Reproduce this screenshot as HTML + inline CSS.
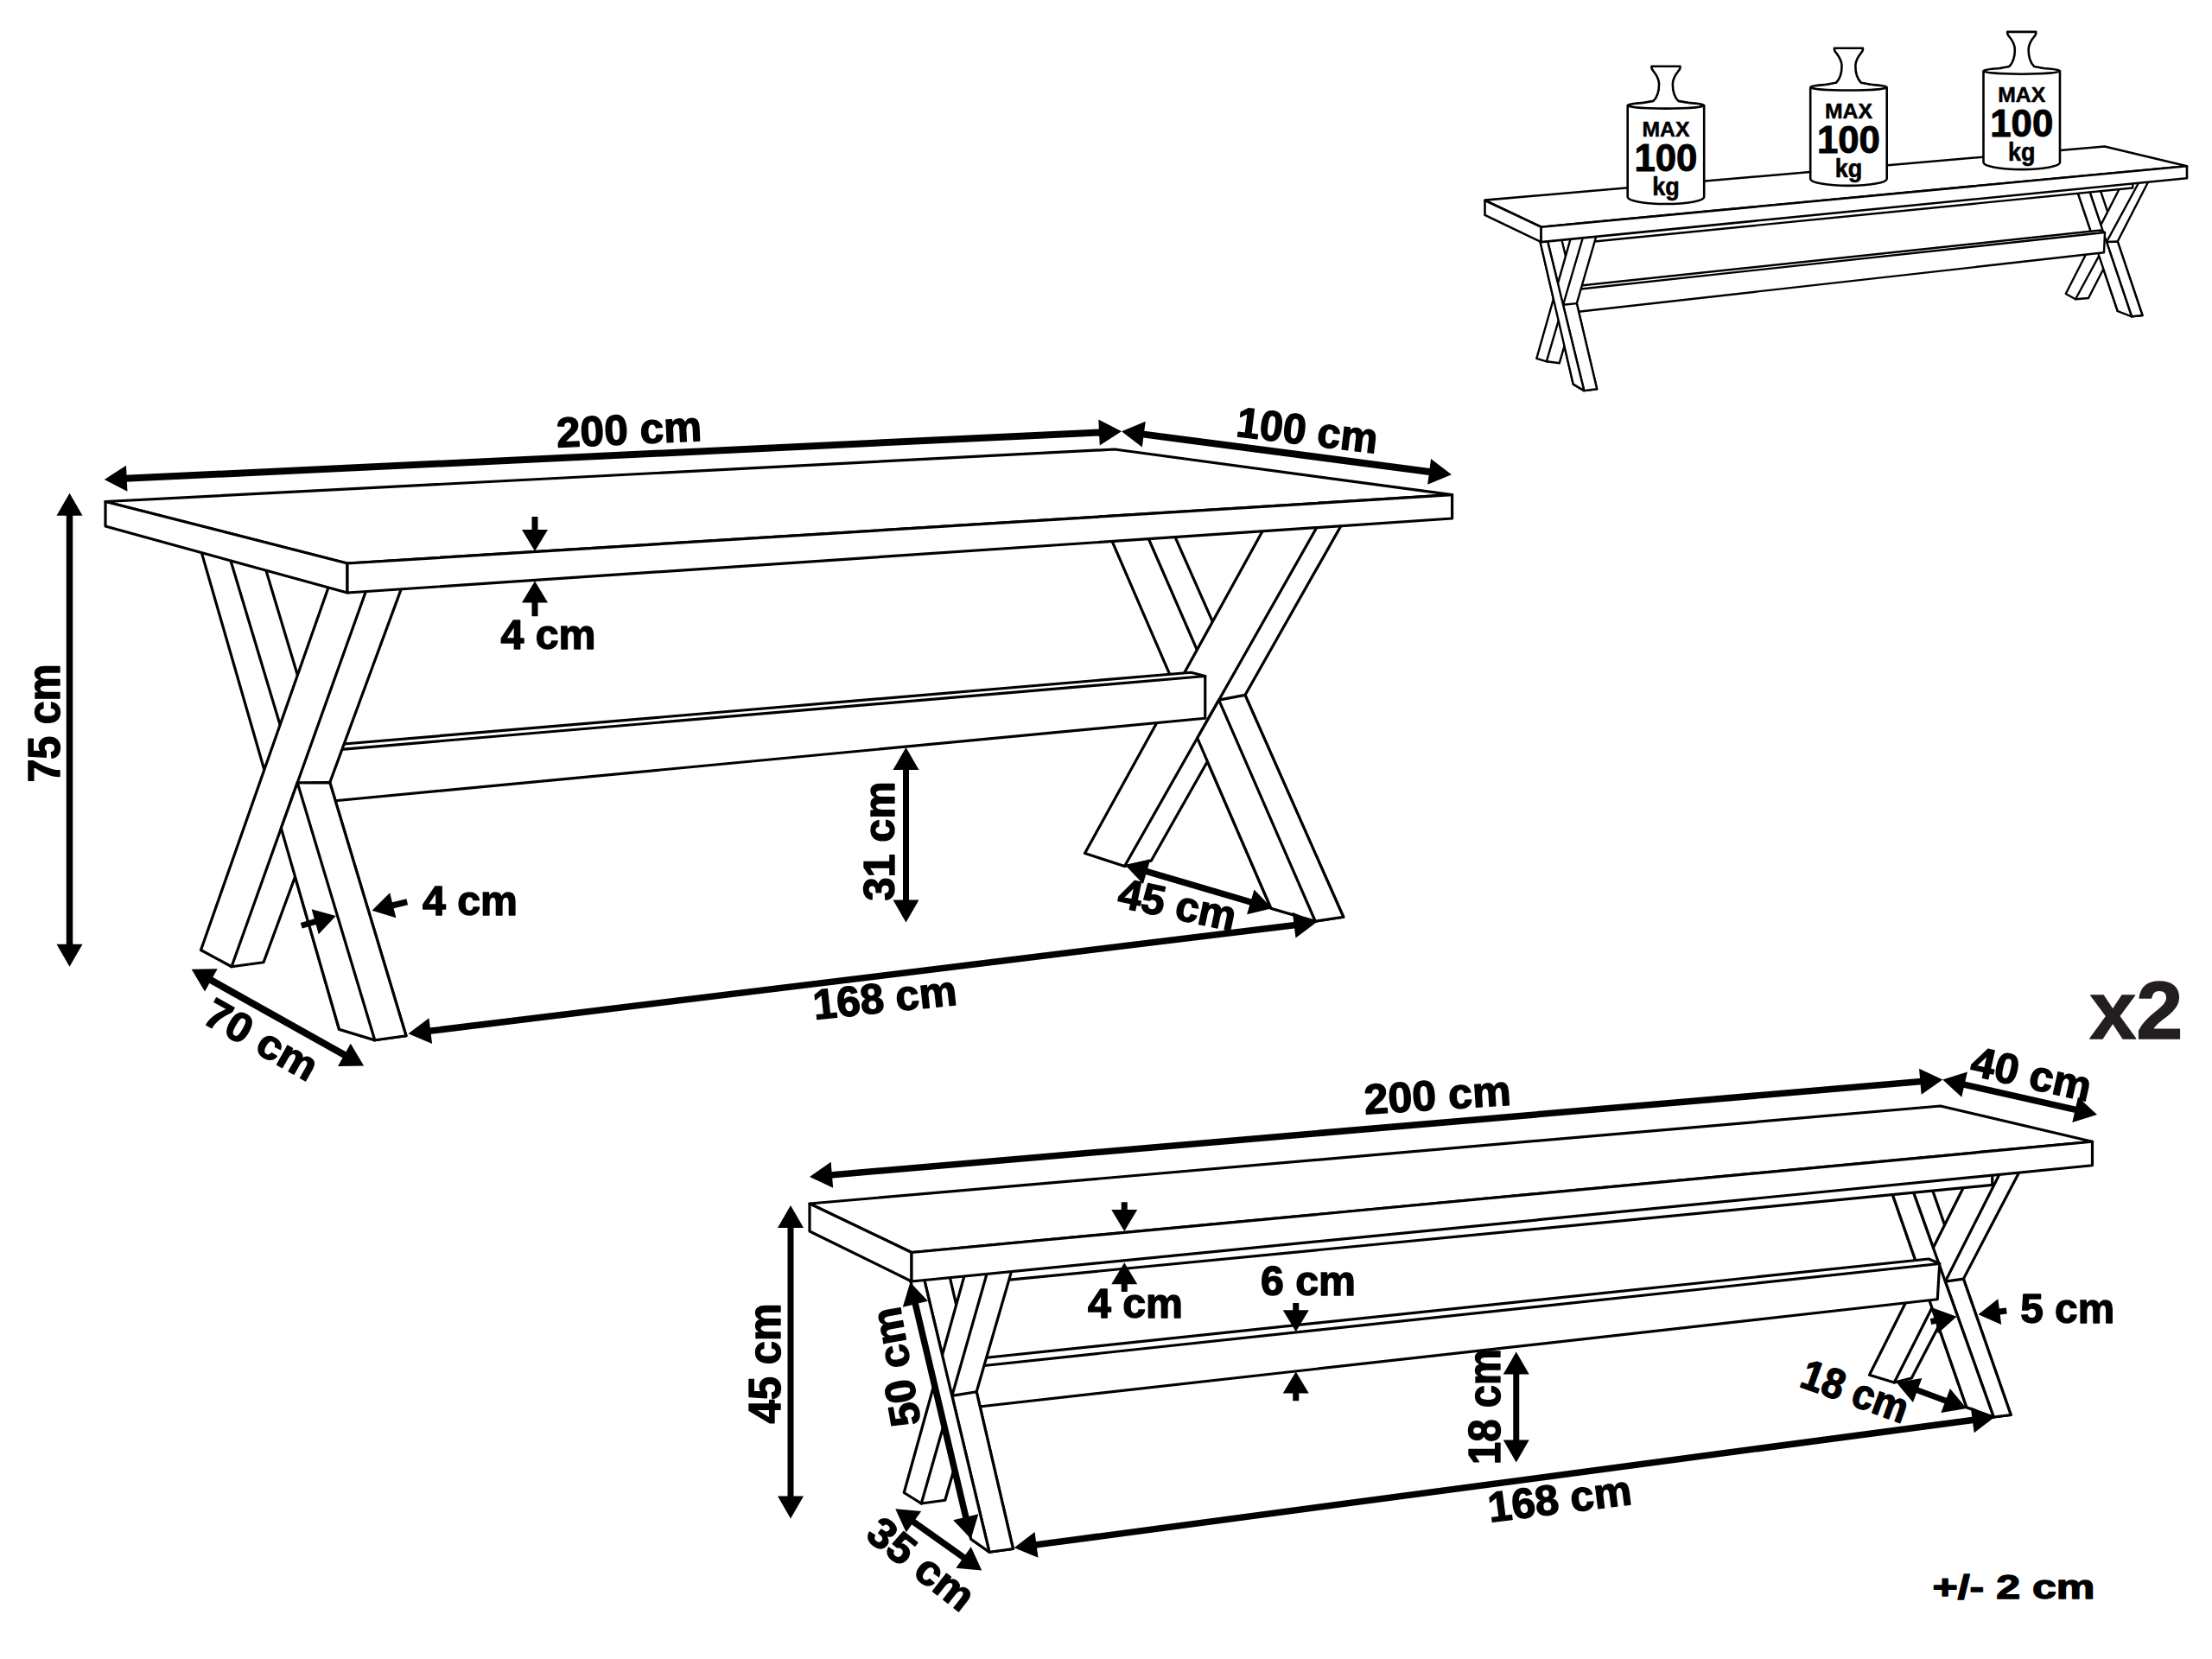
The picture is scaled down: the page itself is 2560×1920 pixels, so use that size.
<!DOCTYPE html>
<html><head><meta charset="utf-8"><title>Table and bench dimensions</title>
<style>
html,body{margin:0;padding:0;background:#fff;}
svg{display:block;}
text{font-family:"Liberation Sans",sans-serif;font-weight:bold;fill:#000;stroke:#000;stroke-width:1.4px;stroke-linejoin:round;}
</style></head>
<body>
<svg width="2560" height="1920" viewBox="0 0 2560 1920">
<rect width="2560" height="1920" fill="#fff"/>
<polygon points="1270.18,587.5 1342.78,582.7 1554.75,1061.25 1522.25,1066.25 1471,1051.25" fill="#fff" stroke="#000" stroke-width="3.2" stroke-linejoin="round" />
<polyline points="1312.07,584 1522.25,1066.25" fill="none" stroke="#000" stroke-width="3.2" stroke-linejoin="round" stroke-linecap="round"/>
<polygon points="1482.36,576.2 1573.87,569.9 1332.25,996.25 1301.5,1002.5 1255.5,987.5" fill="#fff" stroke="#000" stroke-width="3.2" stroke-linejoin="round" />
<polyline points="1546.09,571.4 1301.5,1002.5" fill="none" stroke="#000" stroke-width="3.2" stroke-linejoin="round" stroke-linecap="round"/>
<polygon points="1410.63,810.15 1440.98,804.39 1554.75,1061.25 1522.25,1066.25 1471,1051.25 1385.66,854.17" fill="#fff" stroke="#000" stroke-width="3.2" stroke-linejoin="round" />
<polyline points="1410.63,810.15 1522.25,1066.25" fill="none" stroke="#000" stroke-width="3.2" stroke-linejoin="round" stroke-linecap="round"/>
<polygon points="380,862.5 1378.5,778.25 1394.75,782.5 1394.75,831.25 380,927.5" fill="#fff" stroke="#000" stroke-width="3.2" stroke-linejoin="round" />
<polyline points="380,868.6 1394.75,782.5" fill="none" stroke="#000" stroke-width="3.2" stroke-linejoin="round" stroke-linecap="round"/>
<polygon points="222.06,600.6 296.36,621.9 470,1198.75 433.75,1203.75 392.5,1191.25" fill="#fff" stroke="#000" stroke-width="3.2" stroke-linejoin="round" />
<polyline points="255.28,609.9 433.75,1203.75" fill="none" stroke="#000" stroke-width="3.2" stroke-linejoin="round" stroke-linecap="round"/>
<polygon points="393.46,641.7 478.35,643.6 305,1113.75 268,1118.75 232.5,1099.5" fill="#fff" stroke="#000" stroke-width="3.2" stroke-linejoin="round" />
<polyline points="436.71,647.3 268,1118.75" fill="none" stroke="#000" stroke-width="3.2" stroke-linejoin="round" stroke-linecap="round"/>
<polygon points="344.21,905.8 381.75,905.58 470,1198.75 433.75,1203.75 392.5,1191.25 325.34,958.52" fill="#fff" stroke="#000" stroke-width="3.2" stroke-linejoin="round" />
<polyline points="344.21,905.8 433.75,1203.75" fill="none" stroke="#000" stroke-width="3.2" stroke-linejoin="round" stroke-linecap="round"/>
<polygon points="122,580.5 1290,520 1680.6,572.7 402,652" fill="#fff" stroke="#000" stroke-width="3.2" stroke-linejoin="round" />
<polygon points="122,580.5 402,652 402,686 122,609" fill="#fff" stroke="#000" stroke-width="3.2" stroke-linejoin="round" />
<polygon points="402,652 1680.6,572.7 1680.6,600 402,686" fill="#fff" stroke="#000" stroke-width="3.2" stroke-linejoin="round" />
<polygon points="120.75,555 146.01,538.79 147.43,568.75" fill="#000"/>
<polygon points="1298,499.25 1272.74,515.46 1271.32,485.5" fill="#000"/>
<line x1="144.72" y1="553.86" x2="1274.03" y2="500.39" stroke="#000" stroke-width="8"/>
<polygon points="1298,499.25 1325.73,487.76 1321.83,517.5" fill="#000"/>
<polygon points="1679.9,549.3 1652.17,560.79 1656.07,531.05" fill="#000"/>
<line x1="1321.8" y1="502.37" x2="1656.1" y2="546.18" stroke="#000" stroke-width="8"/>
<polygon points="80.5,570.75 95.5,596.75 65.5,596.75" fill="#000"/>
<polygon points="80.5,1118.75 65.5,1092.75 95.5,1092.75" fill="#000"/>
<line x1="80.5" y1="594.75" x2="80.5" y2="1094.75" stroke="#000" stroke-width="7.5"/>
<polygon points="619,638 604,613 634,613" fill="#000"/>
<line x1="619" y1="598" x2="619" y2="615" stroke="#000" stroke-width="7"/>
<polygon points="619,672.5 634,697.5 604,697.5" fill="#000"/>
<line x1="619" y1="713.25" x2="619" y2="695.5" stroke="#000" stroke-width="7"/>
<polygon points="388.75,1060 368.74,1081.21 360.62,1052.33" fill="#000"/>
<line x1="348.75" y1="1071.25" x2="366.61" y2="1066.23" stroke="#000" stroke-width="7"/>
<polygon points="430.5,1053.75 451.2,1033.22 458.35,1062.36" fill="#000"/>
<line x1="471.25" y1="1043.75" x2="452.84" y2="1048.27" stroke="#000" stroke-width="7"/>
<polygon points="221.7,1121.7 251.71,1121.34 237.03,1147.51" fill="#000"/>
<polygon points="421.1,1233.6 391.09,1233.96 405.77,1207.79" fill="#000"/>
<line x1="242.63" y1="1133.45" x2="400.17" y2="1221.85" stroke="#000" stroke-width="8"/>
<polygon points="472.5,1196.25 496.48,1178.2 500.13,1207.98" fill="#000"/>
<polygon points="1523.5,1067.5 1499.52,1085.55 1495.87,1055.77" fill="#000"/>
<line x1="496.32" y1="1193.33" x2="1499.68" y2="1070.42" stroke="#000" stroke-width="7.5"/>
<polygon points="1048.5,865 1063.5,891 1033.5,891" fill="#000"/>
<polygon points="1048.5,1067.5 1033.5,1041.5 1063.5,1041.5" fill="#000"/>
<line x1="1048.5" y1="889" x2="1048.5" y2="1043.5" stroke="#000" stroke-width="7"/>
<polygon points="1302.25,1001.25 1331.43,994.2 1322.96,1022.98" fill="#000"/>
<polygon points="1472.25,1051.25 1443.07,1058.3 1451.54,1029.52" fill="#000"/>
<line x1="1325.27" y1="1008.02" x2="1449.23" y2="1044.48" stroke="#000" stroke-width="7.5"/>
<text transform="translate(728 497) rotate(-2.6)" x="0" y="16.86" font-size="49" text-anchor="middle" textLength="168" lengthAdjust="spacingAndGlyphs">200 cm</text>
<text transform="translate(1513 498) rotate(7)" x="0" y="16.86" font-size="49" text-anchor="middle" textLength="164" lengthAdjust="spacingAndGlyphs">100 cm</text>
<text transform="translate(634.5 734) rotate(0)" x="0" y="16.86" font-size="49" text-anchor="middle" textLength="110" lengthAdjust="spacingAndGlyphs">4 cm</text>
<text transform="translate(51.5 837) rotate(-90)" x="0" y="17.54" font-size="51" text-anchor="middle" textLength="137" lengthAdjust="spacingAndGlyphs">75 cm</text>
<text transform="translate(544 1042.5) rotate(0)" x="0" y="16.86" font-size="49" text-anchor="middle" textLength="110" lengthAdjust="spacingAndGlyphs">4 cm</text>
<text transform="translate(302.5 1203) rotate(29.5)" x="0" y="16.51" font-size="48" text-anchor="middle" textLength="142" lengthAdjust="spacingAndGlyphs">70 cm</text>
<text transform="translate(1024 1154.5) rotate(-6)" x="0" y="16.86" font-size="49" text-anchor="middle" textLength="167" lengthAdjust="spacingAndGlyphs">168 cm</text>
<text transform="translate(1017.5 973.5) rotate(-90)" x="0" y="17.2" font-size="50" text-anchor="middle" textLength="138" lengthAdjust="spacingAndGlyphs">31 cm</text>
<text transform="translate(1362.7 1047) rotate(12)" x="0" y="16.86" font-size="49" text-anchor="middle" textLength="138" lengthAdjust="spacingAndGlyphs">45 cm</text>
<polygon points="2176.83,1343.75 2223.05,1338.75 2327.25,1637.5 2307.25,1640 2276,1628.75" fill="#fff" stroke="#000" stroke-width="3.2" stroke-linejoin="round" />
<polyline points="2200.23,1340 2307.25,1640" fill="none" stroke="#000" stroke-width="3.2" stroke-linejoin="round" stroke-linecap="round"/>
<polygon points="2292.07,1335 2356.66,1318.75 2212.25,1595 2192.25,1600 2163.5,1591.25" fill="#fff" stroke="#000" stroke-width="3.2" stroke-linejoin="round" />
<polyline points="2333.46,1320.5 2192.25,1600" fill="none" stroke="#000" stroke-width="3.2" stroke-linejoin="round" stroke-linecap="round"/>
<polygon points="2251.29,1483.14 2272.34,1480.06 2327.25,1637.5 2307.25,1640" fill="#fff" stroke="#000" stroke-width="3.2" stroke-linejoin="round" />
<polygon points="2176.83,1343.75 2200.23,1340 2307.25,1640 2276,1628.75" fill="#fff" stroke="#000" stroke-width="3.2" stroke-linejoin="round" />
<polygon points="1120,1573.5 2232.25,1457 2244.75,1462.5 2242.25,1503.75 1120,1629.5" fill="#fff" stroke="#000" stroke-width="3.2" stroke-linejoin="round" />
<polyline points="1120,1582.5 2244.75,1462.5" fill="none" stroke="#000" stroke-width="3.2" stroke-linejoin="round" stroke-linecap="round"/>
<polygon points="1150,1470 2305.75,1350 2305.75,1371.4 1150,1482.8" fill="#fff" stroke="#000" stroke-width="3.2" stroke-linejoin="round" />
<polygon points="1044.65,1443 1090.68,1441.3 1172.5,1792.5 1145,1796.25 1123.75,1781.25" fill="#fff" stroke="#000" stroke-width="3.2" stroke-linejoin="round" />
<polyline points="1060.85,1443.9 1145,1796.25" fill="none" stroke="#000" stroke-width="3.2" stroke-linejoin="round" stroke-linecap="round"/>
<polygon points="1126.32,1439.5 1181.4,1434.1 1093.75,1736.25 1066.25,1740 1046.25,1727.5" fill="#fff" stroke="#000" stroke-width="3.2" stroke-linejoin="round" />
<polyline points="1152.71,1437 1066.25,1740" fill="none" stroke="#000" stroke-width="3.2" stroke-linejoin="round" stroke-linecap="round"/>
<polygon points="1101.81,1615.4 1130.16,1610.75 1172.5,1792.5 1145,1796.25" fill="#fff" stroke="#000" stroke-width="3.2" stroke-linejoin="round" />
<polygon points="1044.65,1443 1060.85,1443.9 1145,1796.25 1123.75,1781.25" fill="#fff" stroke="#000" stroke-width="3.2" stroke-linejoin="round" />
<polygon points="937,1393 2245.75,1280 2421.5,1321.25 1055,1449.5" fill="#fff" stroke="#000" stroke-width="3.2" stroke-linejoin="round" />
<polygon points="937,1393 1055,1449.5 1055,1483 937,1425" fill="#fff" stroke="#000" stroke-width="3.2" stroke-linejoin="round" />
<polygon points="1055,1449.5 2421.5,1321.25 2421.5,1348.75 1055,1483" fill="#fff" stroke="#000" stroke-width="3.2" stroke-linejoin="round" />
<polygon points="937,1362 961.62,1344.83 964.19,1374.72" fill="#000"/>
<polygon points="2248.25,1249.5 2223.63,1266.67 2221.06,1236.78" fill="#000"/>
<line x1="960.91" y1="1359.95" x2="2224.34" y2="1251.55" stroke="#000" stroke-width="7.5"/>
<polygon points="2248.25,1249.5 2276.92,1240.62 2270.29,1269.87" fill="#000"/>
<polygon points="2427,1290 2398.33,1298.88 2404.96,1269.63" fill="#000"/>
<line x1="2271.66" y1="1254.8" x2="2403.59" y2="1284.7" stroke="#000" stroke-width="7.5"/>
<polygon points="915,1395 930,1421 900,1421" fill="#000"/>
<polygon points="915,1757.5 900,1731.5 930,1731.5" fill="#000"/>
<line x1="915" y1="1419" x2="915" y2="1733.5" stroke="#000" stroke-width="7"/>
<polygon points="1053.4,1484 1073.99,1505.84 1044.8,1512.76" fill="#000"/>
<polygon points="1123.75,1781 1103.16,1759.16 1132.35,1752.24" fill="#000"/>
<line x1="1058.93" y1="1507.35" x2="1118.22" y2="1757.65" stroke="#000" stroke-width="7.5"/>
<polygon points="1036.25,1746.25 1066.13,1749.12 1048.72,1773.55" fill="#000"/>
<polygon points="1136.25,1817.5 1106.37,1814.63 1123.78,1790.2" fill="#000"/>
<line x1="1055.8" y1="1760.18" x2="1116.7" y2="1803.57" stroke="#000" stroke-width="7.5"/>
<polygon points="1173.75,1791.25 1197.54,1772.95 1201.5,1802.68" fill="#000"/>
<polygon points="2308.5,1640 2284.71,1658.3 2280.75,1628.57" fill="#000"/>
<line x1="1197.54" y1="1788.08" x2="2284.71" y2="1643.17" stroke="#000" stroke-width="7.5"/>
<polygon points="1754.75,1564.5 1769.75,1590.5 1739.75,1590.5" fill="#000"/>
<polygon points="1754.75,1692.5 1739.75,1666.5 1769.75,1666.5" fill="#000"/>
<line x1="1754.75" y1="1588.5" x2="1754.75" y2="1668.5" stroke="#000" stroke-width="7"/>
<polygon points="2194.75,1600 2224.34,1594.93 2213.94,1623.08" fill="#000"/>
<polygon points="2276,1630 2246.41,1635.07 2256.81,1606.92" fill="#000"/>
<line x1="2217.26" y1="1608.31" x2="2253.49" y2="1621.69" stroke="#000" stroke-width="7"/>
<polygon points="1301.25,1425 1286.25,1400 1316.25,1400" fill="#000"/>
<line x1="1301.25" y1="1391.25" x2="1301.25" y2="1402" stroke="#000" stroke-width="7"/>
<polygon points="1301.25,1461.25 1316.25,1486.25 1286.25,1486.25" fill="#000"/>
<line x1="1301.25" y1="1495" x2="1301.25" y2="1484.25" stroke="#000" stroke-width="7"/>
<polygon points="1499.75,1541.25 1484.75,1516.25 1514.75,1516.25" fill="#000"/>
<line x1="1499.75" y1="1508" x2="1499.75" y2="1518.25" stroke="#000" stroke-width="7"/>
<polygon points="1499.75,1587.5 1514.75,1612.5 1484.75,1612.5" fill="#000"/>
<line x1="1499.75" y1="1621.25" x2="1499.75" y2="1610.5" stroke="#000" stroke-width="7"/>
<polygon points="2264.5,1523.75 2242.77,1543.19 2237.12,1513.72" fill="#000"/>
<line x1="2234.5" y1="1529.5" x2="2241.91" y2="1528.08" stroke="#000" stroke-width="7"/>
<polygon points="2289.5,1521.25 2312.36,1503.16 2316.22,1532.91" fill="#000"/>
<line x1="2322.25" y1="1517" x2="2312.31" y2="1518.29" stroke="#000" stroke-width="7"/>
<text transform="translate(1663.5 1267.2) rotate(-3.6)" x="0" y="16.86" font-size="49" text-anchor="middle" textLength="170" lengthAdjust="spacingAndGlyphs">200 cm</text>
<text transform="translate(2351 1243) rotate(12.8)" x="0" y="16.86" font-size="49" text-anchor="middle" textLength="141" lengthAdjust="spacingAndGlyphs">40 cm</text>
<text transform="translate(2472.2 1169.4) rotate(0)" x="0" y="32.68" font-size="95" text-anchor="middle" textLength="108" lengthAdjust="spacingAndGlyphs" style="fill:#231f20;stroke:#231f20">x2</text>
<text transform="translate(1313.9 1508.5) rotate(0)" x="0" y="16.86" font-size="49" text-anchor="middle" textLength="110" lengthAdjust="spacingAndGlyphs">4 cm</text>
<text transform="translate(1514 1482.5) rotate(0)" x="0" y="16.86" font-size="49" text-anchor="middle" textLength="110" lengthAdjust="spacingAndGlyphs">6 cm</text>
<text transform="translate(2392.7 1513.7) rotate(0)" x="0" y="16.86" font-size="49" text-anchor="middle" textLength="109" lengthAdjust="spacingAndGlyphs">5 cm</text>
<text transform="translate(1718.6 1628) rotate(-90)" x="0" y="17.54" font-size="51" text-anchor="middle" textLength="134" lengthAdjust="spacingAndGlyphs">18 cm</text>
<text transform="translate(1805 1734.5) rotate(-7.2)" x="0" y="16.86" font-size="49" text-anchor="middle" textLength="167" lengthAdjust="spacingAndGlyphs">168 cm</text>
<text transform="translate(2147 1610) rotate(20)" x="0" y="16.86" font-size="49" text-anchor="middle" textLength="128" lengthAdjust="spacingAndGlyphs">18 cm</text>
<text transform="translate(885.4 1578) rotate(-90)" x="0" y="17.54" font-size="51" text-anchor="middle" textLength="139" lengthAdjust="spacingAndGlyphs">45 cm</text>
<text transform="translate(1037 1582) rotate(-100)" x="0" y="16.86" font-size="49" text-anchor="middle" textLength="139" lengthAdjust="spacingAndGlyphs">50 cm</text>
<text transform="translate(1066.4 1810) rotate(38)" x="0" y="16.86" font-size="49" text-anchor="middle" textLength="142" lengthAdjust="spacingAndGlyphs">35 cm</text>
<text transform="translate(2330.4 1836.25) rotate(0)" x="0" y="13.42" font-size="39" text-anchor="middle" textLength="188" lengthAdjust="spacingAndGlyphs">+/- 2 cm</text>
<polygon points="2403.06,218.25 2429.31,215.75 2479.5,365 2467,366.25 2450.75,360" fill="#fff" stroke="#000" stroke-width="2.4" stroke-linejoin="round" />
<polyline points="2416.81,217 2467,366.25" fill="none" stroke="#000" stroke-width="2.4" stroke-linejoin="round" stroke-linecap="round"/>
<polygon points="2454.84,214.5 2488.61,205.75 2417,345 2402,346.25 2390.75,340" fill="#fff" stroke="#000" stroke-width="2.4" stroke-linejoin="round" />
<polyline points="2477.59,207 2402,346.25" fill="none" stroke="#000" stroke-width="2.4" stroke-linejoin="round" stroke-linecap="round"/>
<polygon points="2437.98,279.96 2450.72,279.43 2479.5,365 2467,366.25" fill="#fff" stroke="#000" stroke-width="2.4" stroke-linejoin="round" />
<polygon points="2403.06,218.25 2416.81,217 2467,366.25 2450.75,360" fill="#fff" stroke="#000" stroke-width="2.4" stroke-linejoin="round" />
<polygon points="1820,331.5 2431,266.5 2436,269 2435,292.3 1820,361.5" fill="#fff" stroke="#000" stroke-width="2.4" stroke-linejoin="round" />
<polyline points="1820,335.5 2436,269" fill="none" stroke="#000" stroke-width="2.4" stroke-linejoin="round" stroke-linecap="round"/>
<polygon points="1840,272 2468.25,206 2468.25,217.5 1840,280" fill="#fff" stroke="#000" stroke-width="2.4" stroke-linejoin="round" />
<polygon points="1781.05,273.5 1806.21,272.3 1848.2,450.3 1833.3,452.1 1820.7,444.6" fill="#fff" stroke="#000" stroke-width="2.4" stroke-linejoin="round" />
<polyline points="1789.55,272.9 1833.3,452.1" fill="none" stroke="#000" stroke-width="2.4" stroke-linejoin="round" stroke-linecap="round"/>
<polygon points="1818.97,271.7 1848.82,268.3 1804.7,420.3 1789.8,418.3 1778.3,414.9" fill="#fff" stroke="#000" stroke-width="2.4" stroke-linejoin="round" />
<polyline points="1833.35,270 1789.8,418.3" fill="none" stroke="#000" stroke-width="2.4" stroke-linejoin="round" stroke-linecap="round"/>
<polygon points="1809.05,352.76 1824.79,351.07 1848.2,450.3 1833.3,452.1" fill="#fff" stroke="#000" stroke-width="2.4" stroke-linejoin="round" />
<polygon points="1781.05,273.5 1789.55,272.9 1833.3,452.1 1820.7,444.6" fill="#fff" stroke="#000" stroke-width="2.4" stroke-linejoin="round" />
<polygon points="1718.5,231.6 2435.75,169.5 2531,192.2 1783.6,262.7" fill="#fff" stroke="#000" stroke-width="2.6" stroke-linejoin="round" />
<polygon points="1718.5,232 1783.6,262.7 1783.6,280.1 1718.5,248.9" fill="#fff" stroke="#000" stroke-width="2.6" stroke-linejoin="round" />
<polygon points="1783.6,262.7 2531,192.2 2531,206.25 1783.6,280.1" fill="#fff" stroke="#000" stroke-width="2.6" stroke-linejoin="round" />
<path d="M1883.7 122 L1883.7 228 A44.25 8 0 0 0 1972.2 228 L1972.2 122" fill="#fff" stroke="#000" stroke-width="2.6"/>
<ellipse cx="1927.95" cy="122" rx="44.25" ry="3.6" fill="#fff" stroke="#000" stroke-width="2.6"/>
<path d="M1901.95 119.1 Q1907.95 117.7 1913.45 116.9 C1916.95 113.5 1920.05 106 1920.05 97.4 C1920.05 91 1916.95 86.5 1913.45 82.2 Q1911.65 80.2 1911.45 78.5 L1911.45 76.8 L1944.45 76.8 L1944.45 78.5 Q1944.25 80.2 1942.45 82.2 C1938.95 86.5 1935.85 91 1935.85 97.4 C1935.85 106 1938.95 113.5 1942.45 116.9 Q1947.95 117.7 1953.95 119.1 L1953.95 122 L1901.95 122 Z" fill="#fff" stroke="none"/>
<path d="M1901.95 119.1 Q1907.95 117.7 1913.45 116.9 C1916.95 113.5 1920.05 106 1920.05 97.4 C1920.05 91 1916.95 86.5 1913.45 82.2 Q1911.65 80.2 1911.45 78.5 L1911.45 76.8 L1944.45 76.8 L1944.45 78.5 Q1944.25 80.2 1942.45 82.2 C1938.95 86.5 1935.85 91 1935.85 97.4 C1935.85 106 1938.95 113.5 1942.45 116.9 Q1947.95 117.7 1953.95 119.1" fill="none" stroke="#000" stroke-width="2.6" stroke-linejoin="round"/>
<text x="1927.95" y="158" text-anchor="middle" font-size="24.5" textLength="55" lengthAdjust="spacingAndGlyphs" style="stroke-width:0.5px">MAX</text>
<text x="1927.95" y="198" text-anchor="middle" font-size="44.5" textLength="73" lengthAdjust="spacingAndGlyphs" style="stroke-width:1px">100</text>
<text x="1927.95" y="226.2" text-anchor="middle" font-size="29" textLength="31.5" lengthAdjust="spacingAndGlyphs" style="stroke-width:0.6px">kg</text>
<path d="M2095.2 100.9 L2095.2 206.9 A44.25 8 0 0 0 2183.7 206.9 L2183.7 100.9" fill="#fff" stroke="#000" stroke-width="2.6"/>
<ellipse cx="2139.45" cy="100.9" rx="44.25" ry="3.6" fill="#fff" stroke="#000" stroke-width="2.6"/>
<path d="M2113.45 98 Q2119.45 96.6 2124.95 95.8 C2128.45 92.4 2131.55 84.9 2131.55 76.3 C2131.55 69.9 2128.45 65.4 2124.95 61.1 Q2123.15 59.1 2122.95 57.4 L2122.95 55.7 L2155.95 55.7 L2155.95 57.4 Q2155.75 59.1 2153.95 61.1 C2150.45 65.4 2147.35 69.9 2147.35 76.3 C2147.35 84.9 2150.45 92.4 2153.95 95.8 Q2159.45 96.6 2165.45 98 L2165.45 100.9 L2113.45 100.9 Z" fill="#fff" stroke="none"/>
<path d="M2113.45 98 Q2119.45 96.6 2124.95 95.8 C2128.45 92.4 2131.55 84.9 2131.55 76.3 C2131.55 69.9 2128.45 65.4 2124.95 61.1 Q2123.15 59.1 2122.95 57.4 L2122.95 55.7 L2155.95 55.7 L2155.95 57.4 Q2155.75 59.1 2153.95 61.1 C2150.45 65.4 2147.35 69.9 2147.35 76.3 C2147.35 84.9 2150.45 92.4 2153.95 95.8 Q2159.45 96.6 2165.45 98" fill="none" stroke="#000" stroke-width="2.6" stroke-linejoin="round"/>
<text x="2139.45" y="136.9" text-anchor="middle" font-size="24.5" textLength="55" lengthAdjust="spacingAndGlyphs" style="stroke-width:0.5px">MAX</text>
<text x="2139.45" y="176.9" text-anchor="middle" font-size="44.5" textLength="73" lengthAdjust="spacingAndGlyphs" style="stroke-width:1px">100</text>
<text x="2139.45" y="205.1" text-anchor="middle" font-size="29" textLength="31.5" lengthAdjust="spacingAndGlyphs" style="stroke-width:0.6px">kg</text>
<path d="M2295.5 82.1 L2295.5 188.1 A44.25 8 0 0 0 2384 188.1 L2384 82.1" fill="#fff" stroke="#000" stroke-width="2.6"/>
<ellipse cx="2339.75" cy="82.1" rx="44.25" ry="3.6" fill="#fff" stroke="#000" stroke-width="2.6"/>
<path d="M2313.75 79.2 Q2319.75 77.8 2325.25 77 C2328.75 73.6 2331.85 66.1 2331.85 57.5 C2331.85 51.1 2328.75 46.6 2325.25 42.3 Q2323.45 40.3 2323.25 38.6 L2323.25 36.9 L2356.25 36.9 L2356.25 38.6 Q2356.05 40.3 2354.25 42.3 C2350.75 46.6 2347.65 51.1 2347.65 57.5 C2347.65 66.1 2350.75 73.6 2354.25 77 Q2359.75 77.8 2365.75 79.2 L2365.75 82.1 L2313.75 82.1 Z" fill="#fff" stroke="none"/>
<path d="M2313.75 79.2 Q2319.75 77.8 2325.25 77 C2328.75 73.6 2331.85 66.1 2331.85 57.5 C2331.85 51.1 2328.75 46.6 2325.25 42.3 Q2323.45 40.3 2323.25 38.6 L2323.25 36.9 L2356.25 36.9 L2356.25 38.6 Q2356.05 40.3 2354.25 42.3 C2350.75 46.6 2347.65 51.1 2347.65 57.5 C2347.65 66.1 2350.75 73.6 2354.25 77 Q2359.75 77.8 2365.75 79.2" fill="none" stroke="#000" stroke-width="2.6" stroke-linejoin="round"/>
<text x="2339.75" y="118.1" text-anchor="middle" font-size="24.5" textLength="55" lengthAdjust="spacingAndGlyphs" style="stroke-width:0.5px">MAX</text>
<text x="2339.75" y="158.1" text-anchor="middle" font-size="44.5" textLength="73" lengthAdjust="spacingAndGlyphs" style="stroke-width:1px">100</text>
<text x="2339.75" y="186.3" text-anchor="middle" font-size="29" textLength="31.5" lengthAdjust="spacingAndGlyphs" style="stroke-width:0.6px">kg</text>
</svg>
</body></html>
